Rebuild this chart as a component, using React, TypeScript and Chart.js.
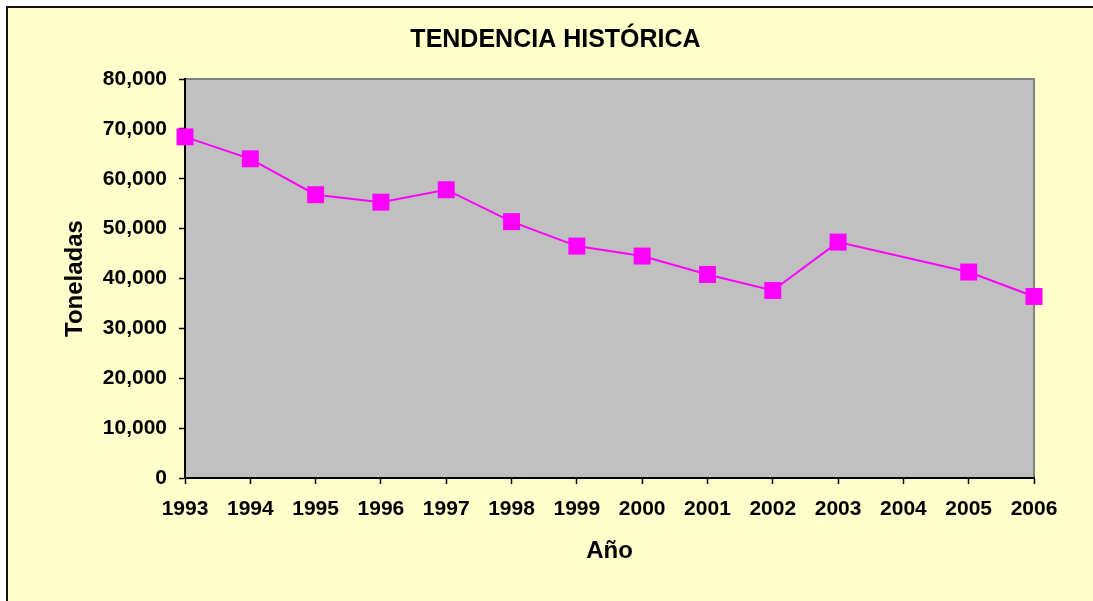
import React, { useEffect, useRef } from "react";
import { Chart, registerables } from "chart.js";

Chart.register(...registerables);

const years: string[] = ["1993", "1994", "1995", "1996", "1997", "1998", "1999", "2000", "2001", "2002", "2003", "2004", "2005", "2006"];
const toneladas: (number | null)[] = [68400, 64000, 56800, 55300, 57800, 51400, 46500, 44500, 40800, 37600, 47300, null, 41300, 36400];

const chartTitle = "TENDENCIA HISTÓRICA";
const yTitle = "Toneladas";
const xTitle = "Año";

const FONT = '"Liberation Sans", Arial, sans-serif';

const plotPlugin = {
  id: "plotBg",
  afterLayout(chart: any) {
    if (chart.titleBlock) {
      chart.titleBlock.left = 10;
      chart.titleBlock.right = 1085;
    }
  },
  beforeDraw(chart: any) {
    const { ctx, chartArea } = chart;
    const { left, top, right, bottom } = chartArea;
    ctx.save();
    ctx.fillStyle = "#C0C0C0";
    ctx.fillRect(left, top, right - left, bottom - top);
    ctx.strokeStyle = "#808080";
    ctx.lineWidth = 2;
    ctx.beginPath();
    ctx.moveTo(left, top);
    ctx.lineTo(right, top);
    ctx.lineTo(right, bottom);
    ctx.stroke();
    ctx.restore();
  },
};

export default function App() {
  const ref = useRef<HTMLCanvasElement | null>(null);

  useEffect(() => {
    if (!ref.current) return;
    const chart = new Chart(ref.current, {
      type: "line",
      data: {
        labels: years,
        datasets: [
          {
            data: toneladas,
            borderColor: "#FF00FF",
            backgroundColor: "#FF00FF",
            borderWidth: 2,
            pointStyle: "rect",
            pointRadius: 12,
            pointHoverRadius: 12,
            pointBorderWidth: 0,
            pointBackgroundColor: "#FF00FF",
            spanGaps: true,
            clip: false as any,
            tension: 0,
          },
        ],
      },
      options: {
        animation: false,
        responsive: false,
        maintainAspectRatio: false,
        layout: { padding: { left: 0, right: 59, top: 0, bottom: 0 } },
        plugins: {
          legend: { display: false },
          tooltip: { enabled: false },
          title: {
            display: true,
            text: chartTitle,
            color: "#000",
            font: { family: FONT, size: 25, weight: "bold" },
            padding: { top: 17, bottom: 24 },
          },
        },
        scales: {
          x: {
            type: "category",
            offset: false,
            grid: { drawOnChartArea: false, drawTicks: true, tickLength: 6, color: "#000", tickWidth: 1.5 },
            border: { display: true, color: "#000", width: 2 },
            ticks: {
              color: "#000",
              font: { family: FONT, size: 21, weight: "bold" },
              padding: 13,
              maxRotation: 0,
              autoSkip: false,
            },
            title: {
              display: true,
              text: xTitle,
              color: "#000",
              font: { family: FONT, size: 24, weight: "bold" },
              padding: { top: 0, bottom: 35 },
            },
            afterFit(scale: any) {
              scale.height = 123;
            },
          },
          y: {
            min: 0,
            max: 80000,
            grid: { drawOnChartArea: false, drawTicks: true, tickLength: 6, color: "#000", tickWidth: 1.5 },
            border: { display: true, color: "#000", width: 2 },
            ticks: {
              stepSize: 10000,
              color: "#000",
              font: { family: FONT, size: 21, weight: "bold" },
              padding: 12,
              callback: (v: any) => Number(v).toLocaleString("en-US"),
            },
            title: {
              display: true,
              text: yTitle,
              color: "#000",
              font: { family: FONT, size: 24, weight: "bold" },
              padding: { top: 53, bottom: 0 },
            },
            afterFit(scale: any) {
              scale.width = 177;
            },
          },
        },
      },
      plugins: [plotPlugin],
    });
    return () => chart.destroy();
  }, []);

  return (
    <div style={{ position: "fixed", left: 0, top: 0, width: 1093, height: 601, background: "#FFFFFF", overflow: "hidden" }}>
      <div
        style={{
          position: "absolute",
          left: 6,
          top: 6,
          width: 1100,
          height: 600,
          borderTop: "2px solid #111",
          borderLeft: "2px solid #111",
          background: "#FFFFCC",
        }}
      >
        <canvas ref={ref} width={1085} height={593} style={{ display: "block", width: 1085, height: 593 }} />
      </div>
    </div>
  );
}
